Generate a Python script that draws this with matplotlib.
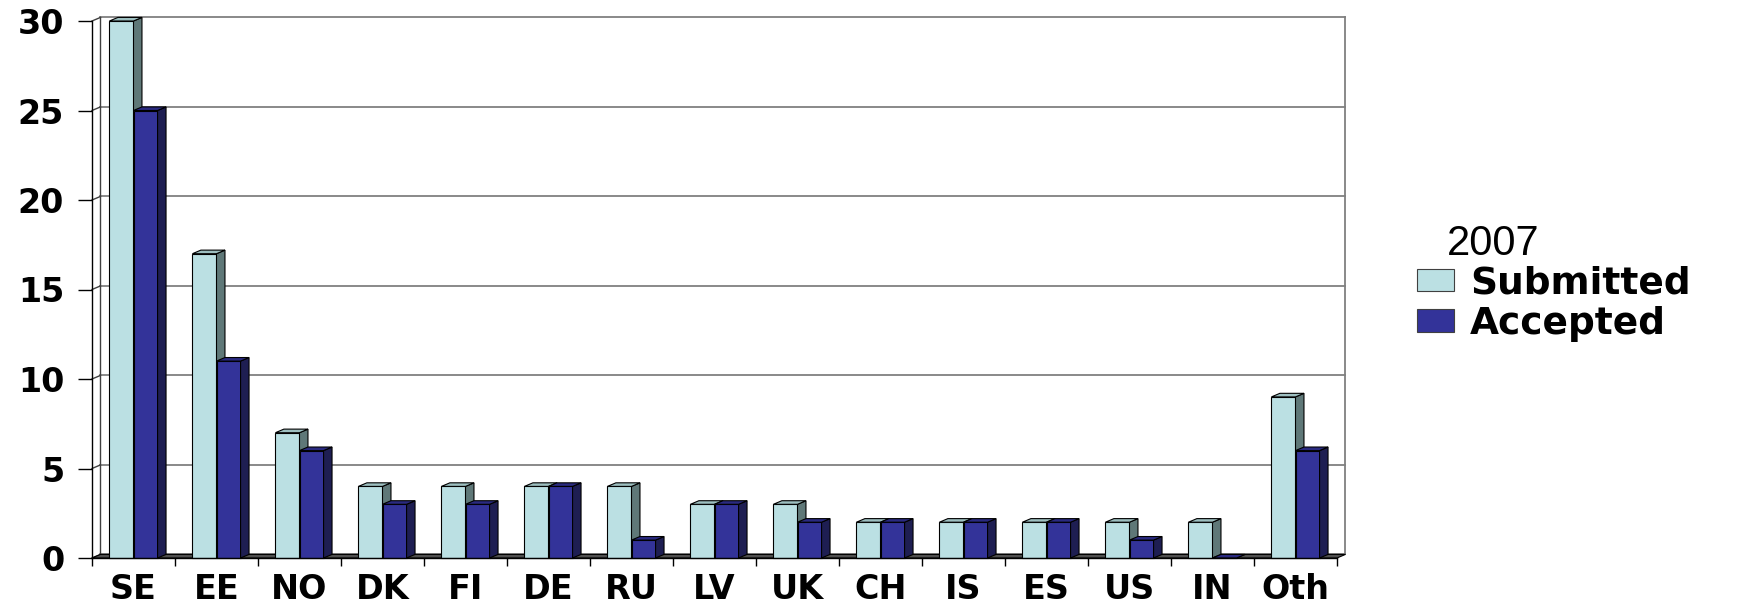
import matplotlib.pyplot as plt
from matplotlib.patches import Rectangle, Polygon
import numpy as np

# data
countries = ["SE", "EE", "NO", "DK", "FI", "DE", "RU", "LV", "UK", "CH", "IS", "ES", "US", "IN", "Oth"]
submitted = [30, 17, 7, 4, 4, 4, 4, 3, 3, 2, 2, 2, 2, 2, 9]
accepted = [25, 11, 6, 3, 3, 4, 1, 3, 2, 2, 2, 2, 1, 0, 6]
yticks = [0, 5, 10, 15, 20, 25, 30]

SUB_FACE, SUB_SIDE, SUB_TOP = "#BBE0E3", "#5F7878", "#9DBFC0"
ACC_FACE, ACC_SIDE, ACC_TOP = "#333399", "#1E1E52", "#2A2A80"
GRID = "#808080"
BOLD = dict(family="DejaVu Sans", weight="heavy")

DX, DY = 0.102, 0.2   # 3d depth in data units
n = len(countries)
YMAX = 30

fig = plt.figure(figsize=(17.44, 6.03), dpi=100)
ax = fig.add_axes([92 / 1744, 45 / 603, 1245 / 1744, 537 / 603])
ax.set_xlim(0, n)
ax.set_ylim(0, YMAX)
ax.patch.set_visible(False)

# back wall gridlines + left wall connectors
for v in yticks:
    ax.plot([DX, n + DX], [v + DY, v + DY], color=GRID, lw=1.3, zorder=1, clip_on=False)
    ax.plot([0, DX], [v, v + DY], color="#404040", lw=1.0, zorder=1, clip_on=False)
ax.plot([DX, DX], [DY, YMAX + DY], color="#404040", lw=1.0, zorder=1, clip_on=False)
ax.plot([n + DX, n + DX], [DY, YMAX + DY], color=GRID, lw=1.3, zorder=1, clip_on=False)

# floor
ax.add_patch(Polygon([(0, 0), (n, 0), (n + DX, DY), (DX, DY)], closed=True,
                     facecolor="#505050", edgecolor="black", lw=0.8, zorder=1.5, clip_on=False))


def bar3d(x, w, h, face, side, top, z):
    kw = dict(edgecolor="black", lw=0.8, zorder=z, clip_on=False)
    ax.add_patch(Rectangle((x, 0), w, h, facecolor=face, **kw))
    ax.add_patch(Polygon([(x + w, 0), (x + w + DX, DY), (x + w + DX, h + DY), (x + w, h)],
                         closed=True, facecolor=side, **kw))
    ax.add_patch(Polygon([(x, h), (x + DX, h + DY), (x + w + DX, h + DY), (x + w, h)],
                         closed=True, facecolor=top, **kw))


W = 0.29
for i in range(n):
    bar3d(i + 0.21, W, submitted[i], SUB_FACE, SUB_SIDE, SUB_TOP, 3)
    bar3d(i + 0.21 + W, W, accepted[i], ACC_FACE, ACC_SIDE, ACC_TOP, 4)

# axes styling
for s in ["top", "right"]:
    ax.spines[s].set_visible(False)
for s in ["left", "bottom"]:
    ax.spines[s].set_color("black")
    ax.spines[s].set_linewidth(1.0)
    ax.spines[s].set_zorder(5)

ax.set_yticks(yticks)
ax.set_yticklabels([str(v) for v in yticks], fontsize=24, **BOLD)
ax.tick_params(axis="y", length=10, width=1, pad=10)

ax.set_xticks(np.arange(n + 1))
ax.set_xticklabels([""] * (n + 1))
ax.tick_params(axis="x", which="major", length=5.5, width=1)
ax.set_xticks(np.arange(n) + 0.5, minor=True)
ax.set_xticklabels(countries, minor=True, fontsize=24, **BOLD)
ax.tick_params(axis="x", which="minor", length=0, pad=11)

# legend
handles = [Rectangle((0, 0), 1, 1, facecolor=SUB_FACE, edgecolor="#404040", lw=0.8),
           Rectangle((0, 0), 1, 1, facecolor=ACC_FACE, edgecolor="#404040", lw=0.8)]
fig.legend(handles, ["Submitted", "Accepted"], loc="center left",
           bbox_to_anchor=(1417 / 1744, (603 - 303.5) / 603), frameon=False,
           prop=dict(size=27, **BOLD), handlelength=0.99, handleheight=0.56,
           handletextpad=0.42, labelspacing=0.12, borderpad=0, borderaxespad=0)
fig.text(1447 / 1744, (603 - 255) / 603, "2007", fontsize=30,
         family="Liberation Sans", ha="left", va="baseline")

fig.savefig("out.png", dpi=100)
